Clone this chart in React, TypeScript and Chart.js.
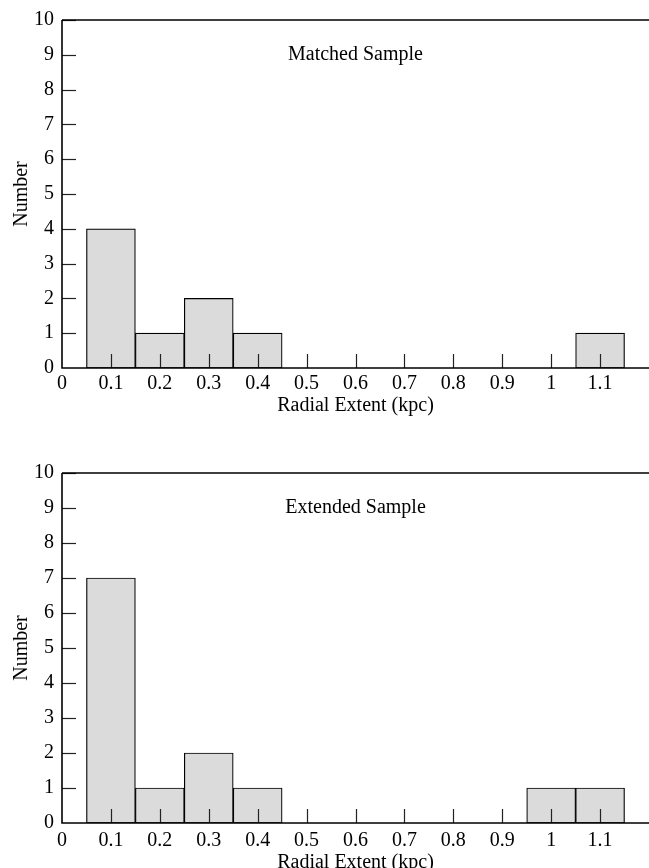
import React, { useEffect, useRef } from "react";
import { Chart, registerables } from "chart.js";

Chart.register(...registerables);

const binCenters = [0.1, 0.2, 0.3, 0.4, 0.5, 0.6, 0.7, 0.8, 0.9, 1.0, 1.1];
const matchedCounts = [4, 1, 2, 1, 0, 0, 0, 0, 0, 0, 1];
const extendedCounts = [7, 1, 2, 1, 0, 0, 0, 0, 0, 1, 1];
const xTickLabels = ["0", "0.1", "0.2", "0.3", "0.4", "0.5", "0.6", "0.7", "0.8", "0.9", "1", "1.1"];
const yTickLabels = ["0", "1", "2", "3", "4", "5", "6", "7", "8", "9", "10"];
const panelTitles = ["Matched Sample", "Extended Sample"];
const xAxisTitle = "Radial Extent (kpc)";
const yAxisTitle = "Number";

const FONT = "'Liberation Serif', 'Times New Roman', serif";

const frameTicksPlugin = {
  id: "frameTicks",
  afterDatasetsDraw(chart: any, _args: any, opts: any) {
    const { ctx, chartArea } = chart;
    const xs = chart.scales.x;
    const ys = chart.scales.y;
    ctx.save();
    ctx.strokeStyle = "#222";
    ctx.lineWidth = 1.2;
    const tl = 14;
    for (let i = 1; i < xTickLabels.length; i++) {
      const v = i / 10;
      const px = Math.round(xs.getPixelForValue(v)) + 0.5;
      ctx.beginPath();
      ctx.moveTo(px, chartArea.bottom);
      ctx.lineTo(px, chartArea.bottom - tl);
      ctx.stroke();
    }
    for (let j = 1; j < yTickLabels.length; j++) {
      const py = Math.round(ys.getPixelForValue(j)) + 0.5;
      ctx.beginPath();
      ctx.moveTo(chartArea.left, py);
      ctx.lineTo(chartArea.left + tl, py);
      ctx.stroke();
    }
    ctx.strokeStyle = "#000";
    ctx.lineWidth = 1.6;
    ctx.beginPath();
    ctx.moveTo(chartArea.left, chartArea.top);
    ctx.lineTo(chartArea.right, chartArea.top);
    ctx.moveTo(chartArea.left, chartArea.top);
    ctx.lineTo(chartArea.left, chartArea.bottom);
    ctx.lineTo(chartArea.right, chartArea.bottom);
    ctx.stroke();
    ctx.fillStyle = "#000";
    ctx.font = `20px ${FONT}`;
    ctx.textAlign = "center";
    ctx.textBaseline = "middle";
    ctx.fillText(opts.text, xs.getPixelForValue(0.6), ys.getPixelForValue(9.0));
    ctx.restore();
  },
};

function Panel({
  counts,
  title,
  padTop,
  height,
  tickPad,
  axisH,
}: {
  counts: number[];
  title: string;
  padTop: number;
  height: number;
  tickPad: number;
  axisH: number;
}) {
  const ref = useRef<HTMLCanvasElement | null>(null);
  useEffect(() => {
    if (!ref.current) return;
    const plotH = 350;
    const padBottom = height - padTop - plotH - axisH;
    const chart = new Chart(ref.current, {
      type: "bar",
      data: {
        datasets: [
          {
            data: binCenters.map((x, i) => ({ x, y: counts[i] })),
            backgroundColor: "#dbdbdb",
            borderColor: "#000",
            borderWidth: 1.2,
            borderSkipped: false,
            barPercentage: 1,
            categoryPercentage: 1,
          },
        ],
      },
      plugins: [frameTicksPlugin],
      options: {
        animation: false,
        responsive: false,
        devicePixelRatio: 1,
        layout: { padding: { top: padTop, bottom: padBottom, left: 0, right: 0 } },
        plugins: {
          legend: { display: false },
          tooltip: { enabled: false },
          frameTicks: { text: title },
        } as any,
        scales: {
          x: {
            type: "linear",
            min: 0,
            max: 1.2,
            offset: false,
            grid: { display: false, offset: false, drawTicks: false },
            border: { display: false },
            afterBuildTicks: (s: any) => {
              s.ticks = s.ticks.filter((t: any) => t.value < 1.15);
            },
            ticks: {
              stepSize: 0.1,
              autoSkip: false,
              maxRotation: 0,
              padding: tickPad,
              color: "#000",
              font: { family: FONT, size: 20 },
              callback: (_v: any, i: number) => xTickLabels[i] ?? "",
            },
            title: {
              display: true,
              text: xAxisTitle,
              color: "#000",
              font: { family: FONT, size: 20 },
              padding: { top: 0, bottom: 0 },
            },
            afterFit: (s: any) => {
              s.height = axisH;
            },
          },
          y: {
            min: 0,
            max: 10,
            grid: { display: false, drawTicks: false },
            border: { display: false },
            ticks: {
              stepSize: 1,
              padding: 8,
              color: "#000",
              font: { family: FONT, size: 20 },
              callback: (_v: any, i: number) => yTickLabels[i] ?? "",
            },
            title: {
              display: true,
              text: yAxisTitle,
              color: "#000",
              font: { family: FONT, size: 20 },
              padding: { top: 10, bottom: 0 },
            },
            afterFit: (s: any) => {
              s.width = 62;
            },
          },
        },
      } as any,
    });
    return () => chart.destroy();
  }, [counts, title, padTop, height, tickPad, axisH]);
  return <canvas ref={ref} width={649} height={height} style={{ display: "block", width: 649, height }} />;
}

export default function App() {
  return (
    <div style={{ position: "absolute", left: 0, top: 0, width: 649, height: 868, background: "#fff", overflow: "hidden" }}>
      <Panel counts={matchedCounts} title={panelTitles[0]} padTop={18} height={434} tickPad={4} axisH={50} />
      <Panel counts={extendedCounts} title={panelTitles[1]} padTop={39} height={450} tickPad={6} axisH={52} />
    </div>
  );
}
